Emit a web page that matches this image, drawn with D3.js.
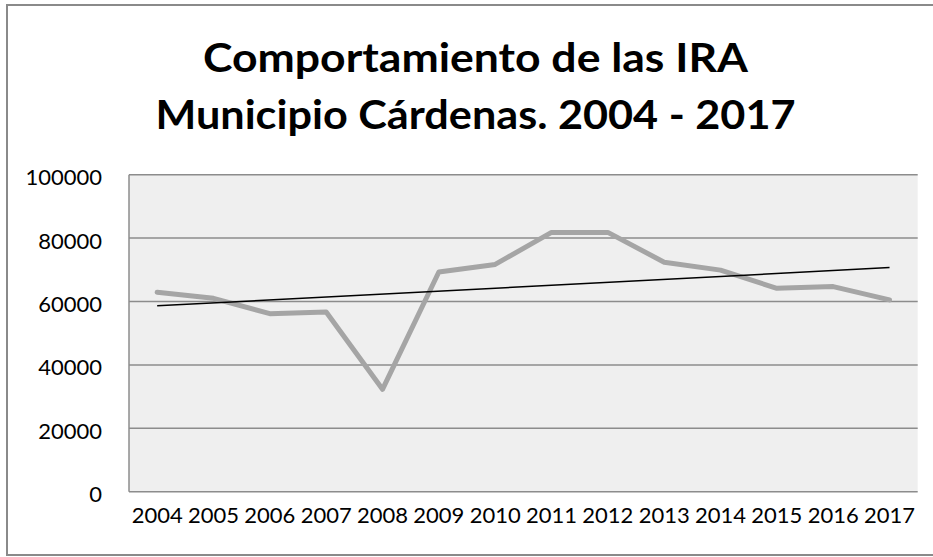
<!DOCTYPE html>
<html>
<head>
<meta charset="utf-8">
<script src="https://cdn.jsdelivr.net/npm/d3@7"></script>
<style>
  body { margin: 0; background: #fff; }
  svg { display: block; }
  text { font-family: Lato, "Open Sans", sans-serif; fill: #000; }
</style>
</head>
<body>
<div id="chart"></div>
<script>
// data
const years = ["2004", "2005", "2006", "2007", "2008", "2009", "2010", "2011", "2012", "2013", "2014", "2015", "2016", "2017"];
const casos = [62900, 61000, 56150, 56700, 32300, 69300, 71700, 81800, 81800, 72400, 69900, 64150, 64700, 60500];
const yTicks = [0, 20000, 40000, 60000, 80000, 100000];
const titleLines = ["Comportamiento de las IRA", "Municipio Cárdenas. 2004 - 2017"];

const width = 933, height = 557;
const margin = { top: 174.7, right: 15.3, bottom: 65.3, left: 129 };

const svg = d3.select("#chart")
    .append("svg")
    .attr("width", width)
    .attr("height", height);

// outer border of the chart
svg.append("rect")
    .attr("x", 7)
    .attr("y", 5)
    .attr("width", 935)
    .attr("height", 550)
    .attr("fill", "none")
    .attr("stroke", "#8a8a8a")
    .attr("stroke-width", 2);

// title, two lines
const titleW = [545, 640];
svg.selectAll(".title")
    .data(titleLines)
    .enter()
    .append("text")
    .attr("class", "title")
    .attr("x", 475.5)
    .attr("y", (d, i) => 72 + i * 56.5)
    .attr("text-anchor", "middle")
    .attr("textLength", (d, i) => titleW[i])
    .attr("lengthAdjust", "spacingAndGlyphs")
    .style("font-size", "40px")
    .style("font-weight", "bold")
    .text((d) => d);

const x = d3.scaleBand()
    .domain(years)
    .range([margin.left, width - margin.right]);

const y = d3.scaleLinear()
    .domain([0, 100000])
    .range([height - margin.bottom, margin.top]);

// plot background
svg.append("rect")
    .attr("x", margin.left)
    .attr("y", margin.top)
    .attr("width", width - margin.right - margin.left)
    .attr("height", height - margin.bottom - margin.top)
    .attr("fill", "#efefef");

// gridlines
svg.selectAll(".grid")
    .data(yTicks)
    .enter()
    .append("line")
    .attr("x1", margin.left)
    .attr("x2", width - margin.right)
    .attr("y1", (d) => y(d))
    .attr("y2", (d) => y(d))
    .attr("stroke", "#8c8c8c")
    .attr("stroke-width", 1.5);

// left axis line
svg.append("line")
    .attr("x1", margin.left)
    .attr("x2", margin.left)
    .attr("y1", margin.top)
    .attr("y2", height - margin.bottom)
    .attr("stroke", "#8c8c8c")
    .attr("stroke-width", 1.5);

// y labels
const yAxis = svg.append("g")
    .attr("transform", `translate(${margin.left}, 0)`)
    .call(d3.axisLeft(y).tickValues(yTicks).tickFormat(d3.format("d")).tickSize(0).tickPadding(27));
yAxis.select(".domain").remove();
yAxis.selectAll("text")
    .style("font-family", "Lato, sans-serif")
    .style("font-size", "22px")
    .attr("dy", "0.45em");

// x labels
const xAxis = svg.append("g")
    .attr("transform", `translate(0, ${height - margin.bottom})`)
    .call(d3.axisBottom(x).tickSize(0).tickPadding(31));
xAxis.select(".domain").remove();
xAxis.selectAll("text")
    .style("font-family", "Lato, sans-serif")
    .style("font-size", "22px")
    .attr("dy", "0");

const cx = (d) => x(d) + x.bandwidth() / 2;

// main series
const line = d3.line()
    .x((d, i) => cx(years[i]))
    .y((d) => y(d));

svg.append("path")
    .datum(casos)
    .attr("d", line)
    .attr("fill", "none")
    .attr("stroke", "#a5a5a5")
    .attr("stroke-width", 5)
    .attr("stroke-linejoin", "round")
    .attr("stroke-linecap", "round");

// linear trendline (least squares on the series)
const n = casos.length;
const xm = (n - 1) / 2;
const ym = d3.mean(casos);
const slope = d3.sum(casos, (v, i) => (i - xm) * (v - ym)) / d3.sum(casos, (v, i) => (i - xm) * (i - xm));
const trend = [0, n - 1].map((i) => ({ i: i, v: ym + slope * (i - xm) }));

svg.append("path")
    .datum(trend)
    .attr("d", d3.line().x((d) => cx(years[d.i])).y((d) => y(d.v)))
    .attr("fill", "none")
    .attr("stroke", "#000")
    .attr("stroke-width", 1.5);
</script>
</body>
</html>
